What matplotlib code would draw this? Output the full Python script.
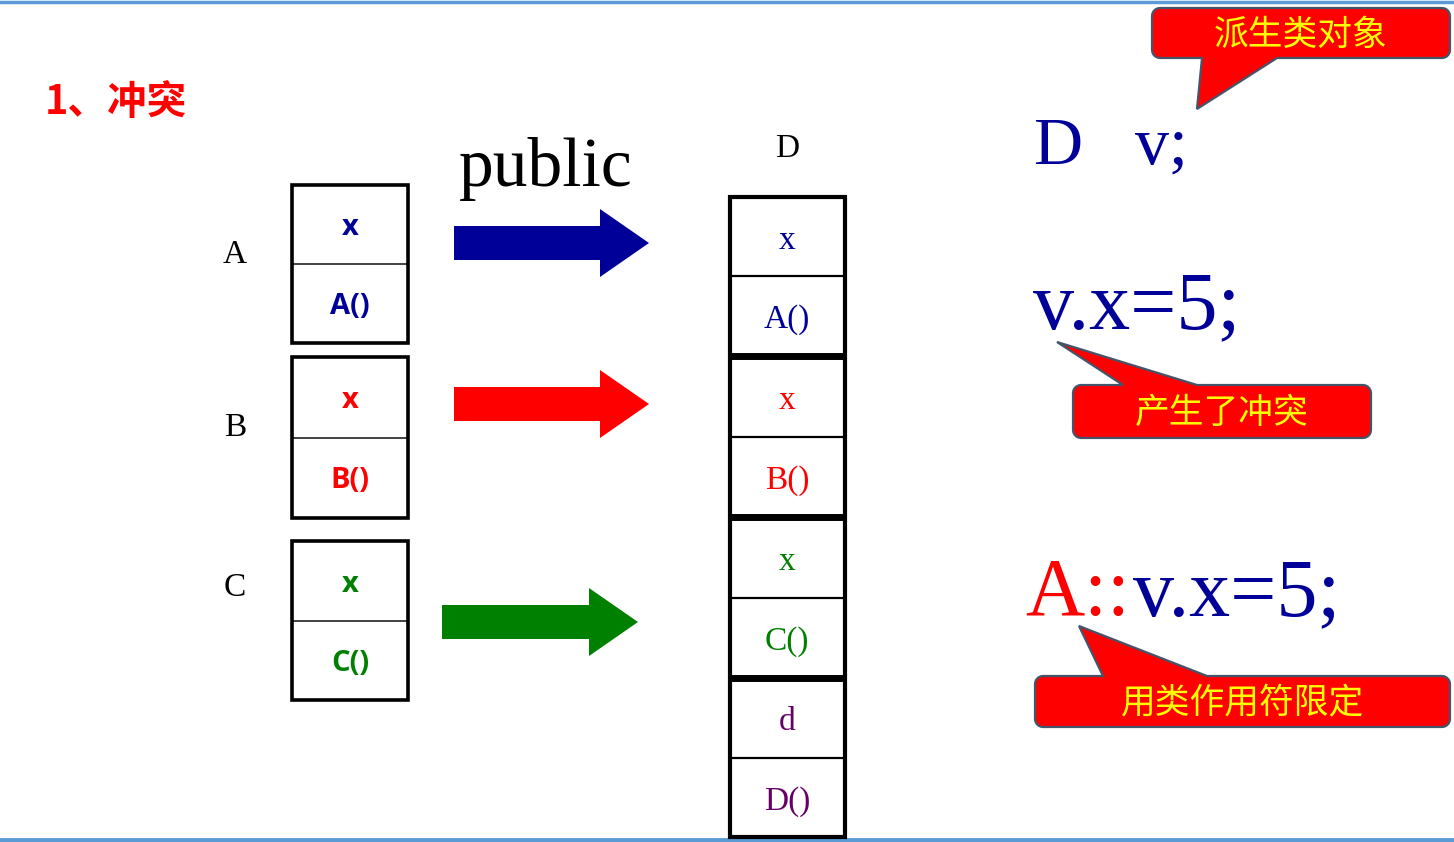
import matplotlib.pyplot as plt
import numpy as np
from matplotlib.patches import Rectangle, FancyArrow, Polygon

plt.rcParams['font.family'] = ['Noto Sans CJK SC', 'DejaVu Sans']

SERIF = 'Liberation Serif'
CJK = 'Noto Sans CJK SC'

DARK_BLUE = '#000099'
RED = '#FF0000'
GREEN = '#008000'
PURPLE = '#660066'
FRAME_BLUE = '#5B9BD5'
CALLOUT_EDGE = '#44546A'
CALLOUT_TEXT = '#FFFF00'

# base classes: name, colour, member, method
BASE_NAMES = ['A', 'B', 'C']
BASE_COLORS = [DARK_BLUE, RED, GREEN]
BASE_MEMBERS = ['x', 'x', 'x']
BASE_METHODS = ['A()', 'B()', 'C()']
BASE_TOPS = [185, 357, 541]
BASE_MIDS = [264, 438, 621]
BASE_BOTTOMS = [343, 518, 700]
BASE_LABEL_Y = [255, 428, 588]

# derived class D layout (sections from A, B, C and own part)
D_MEMBERS = ['x', 'x', 'x', 'd']
D_METHODS = ['A()', 'B()', 'C()', 'D()']
D_COLORS = [DARK_BLUE, RED, GREEN, PURPLE]
D_BOUNDS = [197, 356, 517, 678, 837]
D_MIDS = [276, 437, 598, 758]

# inheritance arrows: start x, end x, centre y
ARROW_X0 = [454, 454, 442]
ARROW_X1 = [649, 649, 638]
ARROW_Y = [243, 404, 622]

# callouts: text, box (x0, y0, x1, y1), tail edge, tail base xa, xb, tip
CALLOUT_TEXTS = ['派生类对象', '产生了冲突', '用类作用符限定']
CALLOUT_BOXES = [(1152, 8, 1450, 58), (1073, 385, 1371, 438), (1035, 676, 1450, 727)]
CALLOUT_TAILS = [('bottom', 1202, 1277, (1197, 109)),
                 ('top', 1123, 1197, (1057, 342)),
                 ('top', 1103, 1207, (1079, 626))]


def callout_outline(box, tail, r=8, n=6):
    x0, y0, x1, y1 = box
    edge, xa, xb, tip = tail
    t = np.linspace(0, np.pi / 2, n)
    pts = [(x0 + r, y0)]
    if edge == 'top':
        pts += [(xa, y0), tip, (xb, y0)]
    pts += [(x1 - r, y0)]
    pts += [(x1 - r + r * np.sin(a), y0 + r - r * np.cos(a)) for a in t]
    pts += [(x1, y1 - r)]
    pts += [(x1 - r + r * np.cos(a), y1 - r + r * np.sin(a)) for a in t]
    if edge == 'bottom':
        pts += [(xb, y1), tip, (xa, y1)]
    pts += [(x0 + r, y1)]
    pts += [(x0 + r - r * np.sin(a), y1 - r + r * np.cos(a)) for a in t]
    pts += [(x0, y0 + r)]
    pts += [(x0 + r - r * np.cos(a), y0 + r - r * np.sin(a)) for a in t]
    return pts


fig = plt.figure(figsize=(14.54, 8.42), dpi=100)
ax = fig.add_axes([0, 0, 1, 1])
ax.set_xlim(0, 1454)
ax.set_ylim(842, 0)
ax.axis('off')

# frame lines at top and bottom
ax.axhline(1.5, color=FRAME_BLUE, lw=2.5)
ax.axhline(839.5, color=FRAME_BLUE, lw=3.5)

ax.text(45, 102, '1、冲突', color=RED, fontsize=28.5, fontweight='bold',
        family=CJK, ha='left', va='center')

# base class boxes
for name, col, mem, meth, top, mid, bot, ly in zip(
        BASE_NAMES, BASE_COLORS, BASE_MEMBERS, BASE_METHODS,
        BASE_TOPS, BASE_MIDS, BASE_BOTTOMS, BASE_LABEL_Y):
    ax.add_patch(Rectangle((292, top), 116, bot - top, fill=False,
                           ec='black', lw=2.6, zorder=3))
    ax.plot([292, 408], [mid, mid], color='#222222', lw=1.2, zorder=2)
    ax.text(235, ly, name, family=SERIF, fontsize=24, ha='center', va='center')
    ax.text(350, (top + mid) / 2 + 3, mem, color=col, fontsize=21, fontweight='bold',
            family='Open Sans', ha='center', va='center')
    ax.text(350, (mid + bot) / 2 + 3, meth, color=col, fontsize=21, fontweight='bold',
            family='Open Sans', ha='center', va='center')

# arrows
for x0, x1, y, col in zip(ARROW_X0, ARROW_X1, ARROW_Y, BASE_COLORS):
    ax.add_patch(FancyArrow(x0, y, x1 - x0, 0, width=34, head_width=68,
                            head_length=49, length_includes_head=True,
                            color=col, lw=0))

ax.text(459, 186, 'public', family=SERIF, fontsize=50, ha='left', va='baseline')

# derived class D
ax.text(787, 149, 'D', family=SERIF, fontsize=24, ha='center', va='center')
ax.add_patch(Rectangle((730, D_BOUNDS[0]), 115, D_BOUNDS[-1] - D_BOUNDS[0],
                       fill=False, ec='black', lw=3, zorder=3))
for b in D_BOUNDS[1:-1]:
    ax.plot([730, 845], [b, b], color='black', lw=5, zorder=3,
            solid_capstyle='butt')
for i, (mem, meth, col, mid) in enumerate(zip(D_MEMBERS, D_METHODS, D_COLORS, D_MIDS)):
    top, bot = D_BOUNDS[i], D_BOUNDS[i + 1]
    ax.plot([730, 845], [mid, mid], color='black', lw=1.6, zorder=2,
            solid_capstyle='butt')
    ax.text(787, (top + mid) / 2 + 4, mem, color=col, family=SERIF, fontsize=24,
            ha='center', va='center')
    ax.text(787, (mid + bot) / 2 + 4, meth, color=col, family=SERIF, fontsize=24,
            ha='center', va='center')

# code on the right
ax.text(1033, 164, 'D', color=DARK_BLUE, family=SERIF, fontsize=49, va='baseline')
ax.text(1135, 164, 'v;', color=DARK_BLUE, family=SERIF, fontsize=49, va='baseline')
ax.text(1033, 328, 'v.x=5;', color=DARK_BLUE, family=SERIF, fontsize=59, va='baseline')
ax.text(1025, 615, 'A::', color=RED, family=SERIF, fontsize=59, va='baseline')
ax.text(1133, 615, 'v.x=5;', color=DARK_BLUE, family=SERIF, fontsize=59, va='baseline')

# callouts
for txt, box, tail in zip(CALLOUT_TEXTS, CALLOUT_BOXES, CALLOUT_TAILS):
    ax.add_patch(Polygon(callout_outline(box, tail), closed=True, fc=RED,
                         ec=CALLOUT_EDGE, lw=1.6, zorder=4))
    x0, y0, x1, y1 = box
    ax.text((x0 + x1) / 2, (y0 + y1) / 2 + 2, txt, color=CALLOUT_TEXT, family=CJK,
            fontsize=25, ha='center', va='center', zorder=5)

fig.savefig('out.png', dpi=100)
